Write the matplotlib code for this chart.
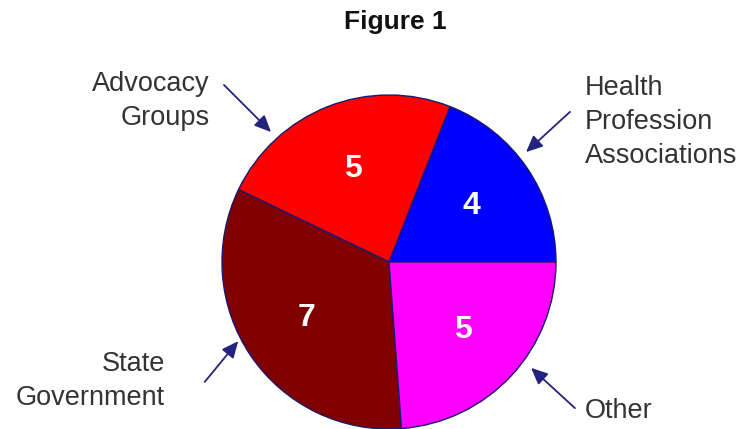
import matplotlib
matplotlib.use("Agg")
import matplotlib.pyplot as plt

categories = ["Health\nProfession\nAssociations", "Advocacy\nGroups", "State\nGovernment", "Other"]
values = [4, 5, 7, 5]
colors = ["#0000FF", "#FF0000", "#800000", "#FF00FF"]
title = "Figure 1"

W, H = 744, 429
fig = plt.figure(figsize=(W / 100, H / 100), dpi=100)
ax = fig.add_axes([0, 0, 1, 1])
ax.set_xlim(0, W)
ax.set_ylim(0, H)
ax.set_aspect("equal")
ax.axis("off")

plt.rcParams["font.family"] = ["Liberation Sans", "DejaVu Sans"]

cx, cy, r = 389, H - 262, 167
total = sum(values)
wedges, _, autotexts = ax.pie(
    values, colors=colors, startangle=0, counterclock=True,
    center=(cx, cy), radius=r, frame=True,
    autopct=lambda p: f"{round(p * total / 100)}", pctdistance=0.6,
    wedgeprops=dict(edgecolor="#1a1a6e", linewidth=1.0),
    textprops=dict(color="white", fontsize=23, fontweight="bold"),
)
ax.set_xlim(0, W)
ax.set_ylim(0, H)
ax.axis("off")

ax.text(395, H - 22, title, ha="center", va="center", fontsize=19, fontweight="bold", color="#111111")

lab_kw = dict(fontsize=19.5, color="#333333", linespacing=1.4)
arrow_kw = dict(arrowstyle="-|>,head_length=1.0,head_width=0.45", color="#23237e", lw=1.3)

# Advocacy Groups
ax.text(210, H - 101, categories[1], ha="right", va="center", multialignment="right", **lab_kw)
ax.annotate("", xy=(273, H - 134), xytext=(222, H - 83), arrowprops=arrow_kw)
# Health Profession Associations
ax.text(585, H - 122, categories[0], ha="left", va="center", **lab_kw)
ax.annotate("", xy=(524, H - 154), xytext=(572, H - 110), arrowprops=arrow_kw)
# State Government
ax.text(165, H - 381, categories[2], ha="right", va="center", multialignment="right", **lab_kw)
ax.annotate("", xy=(240, H - 339), xytext=(203, H - 384), arrowprops=arrow_kw)
# Other
ax.text(585, H - 411, categories[3], ha="left", va="center", **lab_kw)
ax.annotate("", xy=(529, H - 366), xytext=(577, H - 410), arrowprops=arrow_kw)

fig.savefig("out.png", dpi=100)
